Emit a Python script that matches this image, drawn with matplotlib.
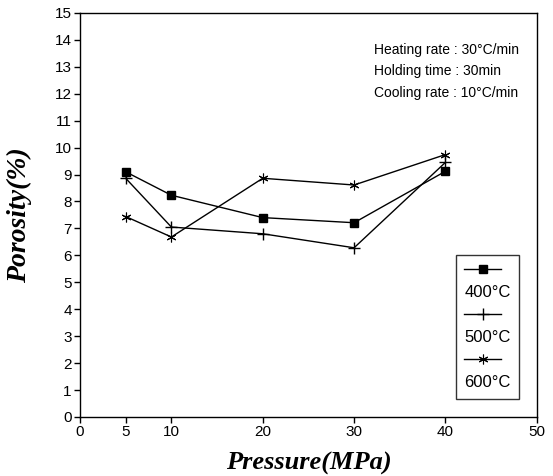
import matplotlib
matplotlib.use("Agg")
import matplotlib.pyplot as plt
from matplotlib.lines import Line2D

pressure = [5, 10, 20, 30, 40]
p400 = [9.10, 8.23, 7.40, 7.21, 9.12]
p500 = [8.86, 7.05, 6.80, 6.28, 9.45]
p600 = [7.44, 6.68, 8.86, 8.61, 9.74]
series_labels = ["400°C", "500°C", "600°C"]
x_ticks = [0, 5, 10, 20, 30, 40, 50]
y_ticks = list(range(0, 16))
notes = ["Heating rate : 30°C/min", "Holding time : 30min", "Cooling rate : 10°C/min"]

plt.rcParams['font.family'] = ['Liberation Sans', 'DejaVu Sans']

fig = plt.figure(figsize=(5.53, 4.76), dpi=100)
ax = fig.add_axes([0.1447, 0.124, 0.826, 0.849])

l1, = ax.plot(pressure, p400, color='black', lw=1.0, marker='s', markersize=6,
              markerfacecolor='black', label=series_labels[0])
l2, = ax.plot(pressure, p500, color='black', lw=1.0, marker='+', markersize=8,
              markeredgewidth=1.0, label=series_labels[1])
l3, = ax.plot(pressure, p600, color='black', lw=1.0, marker=(6, 2, 0), markersize=7,
              markeredgewidth=0.8, label=series_labels[2])

ax.set_xlim(0, 50)
ax.set_ylim(0, 15)
ax.set_xticks(x_ticks)
ax.set_yticks(y_ticks)
ax.tick_params(direction='out', length=4, width=1, labelsize=11, pad=2, colors='black')
for s in ax.spines.values():
    s.set_linewidth(1.0)
    s.set_color('black')

ax.set_xlabel("Pressure(MPa)", family='Liberation Serif', fontweight='bold',
              fontstyle='italic', fontsize=19, labelpad=9)
ax.set_ylabel("Porosity(%)", family='Liberation Serif', fontweight='bold',
              fontstyle='italic', fontsize=20, labelpad=16)

for i, t in enumerate(notes):
    ax.text(0.643, 0.908 - i * 0.053, t, transform=ax.transAxes, fontsize=10,
            va='center', ha='left')

blank = Line2D([], [], linestyle='none')
handles = [l1, blank, l2, blank, l3, blank]
labels = ["", series_labels[0], "", series_labels[1], "", series_labels[2]]
leg = ax.legend(handles, labels, loc='lower right', bbox_to_anchor=(0.961, 0.045),
                fontsize=12, handlelength=2.2, handletextpad=-2.2, labelspacing=0.45,
                frameon=True, fancybox=False, edgecolor='black', borderpad=0.5,
                borderaxespad=0)
leg.get_frame().set_linewidth(1.0)

fig.savefig("out.png", dpi=100)
